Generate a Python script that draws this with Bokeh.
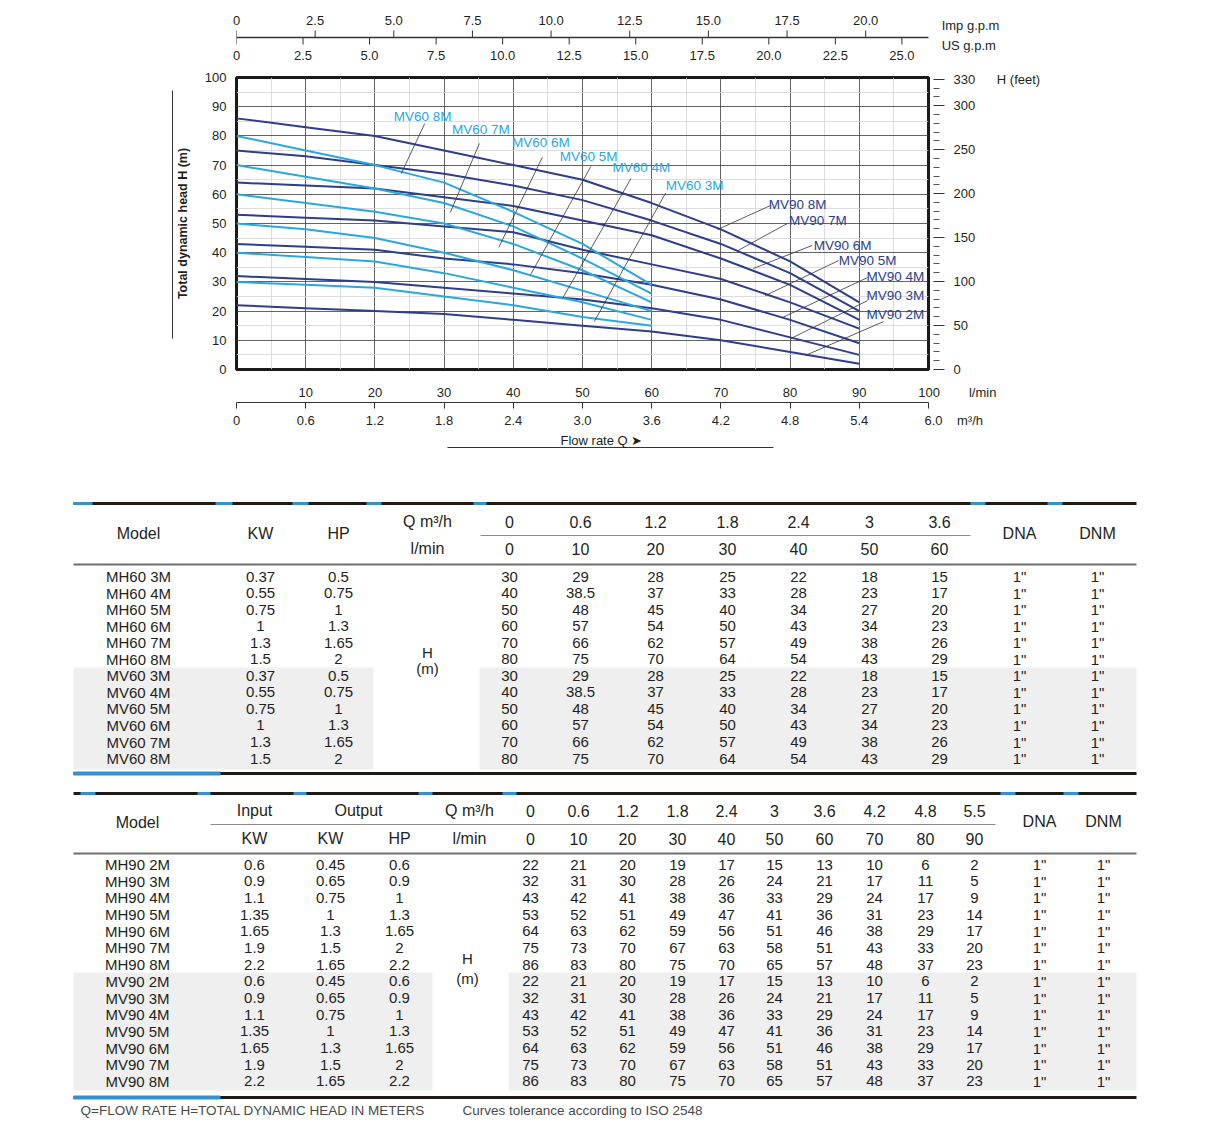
from bokeh.plotting import figure
from bokeh.models import (Range1d, LinearAxis, FixedTicker, PrintfTickFormatter,
                          Title, ColumnDataSource)
from bokeh.core.properties import value
from bokeh.embed import file_html
from bokeh.resources import INLINE

FONT = "Liberation Sans"
INK = "#231f20"
CYAN = "#29a8e0"
NAVY = "#2c3e8c"
ACCENT = "#3590cc"
W = 1200
NB = "\u00a0"

# ------------------------------------------------------------------ data
# MV60 / MH60 series (table 1)
lmin60 = [0, 10, 20, 30, 40, 50, 60]
m3h60 = ["0", "0.6", "1.2", "1.8", "2.4", "3", "3.6"]
stages60 = ["3M", "4M", "5M", "6M", "7M", "8M"]
kw60 = ["0.37", "0.55", "0.75", "1", "1.3", "1.5"]
hp60 = ["0.5", "0.75", "1", "1.3", "1.65", "2"]
h60_3M = [30, 29, 28, 25, 22, 18, 15]
h60_4M = [40, 38.5, 37, 33, 28, 23, 17]
h60_5M = [50, 48, 45, 40, 34, 27, 20]
h60_6M = [60, 57, 54, 50, 43, 34, 23]
h60_7M = [70, 66, 62, 57, 49, 38, 26]
h60_8M = [80, 75, 70, 64, 54, 43, 29]
heads60 = [h60_3M, h60_4M, h60_5M, h60_6M, h60_7M, h60_8M]

# MV90 / MH90 series (table 2)
lmin90 = [0, 10, 20, 30, 40, 50, 60, 70, 80, 90]
m3h90 = ["0", "0.6", "1.2", "1.8", "2.4", "3", "3.6", "4.2", "4.8", "5.5"]
stages90 = ["2M", "3M", "4M", "5M", "6M", "7M", "8M"]
kw_in90 = ["0.6", "0.9", "1.1", "1.35", "1.65", "1.9", "2.2"]
kw_out90 = ["0.45", "0.65", "0.75", "1", "1.3", "1.5", "1.65"]
hp90 = ["0.6", "0.9", "1", "1.3", "1.65", "2", "2.2"]
h90_2M = [22, 21, 20, 19, 17, 15, 13, 10, 6, 2]
h90_3M = [32, 31, 30, 28, 26, 24, 21, 17, 11, 5]
h90_4M = [43, 42, 41, 38, 36, 33, 29, 24, 17, 9]
h90_5M = [53, 52, 51, 49, 47, 41, 36, 31, 23, 14]
h90_6M = [64, 63, 62, 59, 56, 51, 46, 38, 29, 17]
h90_7M = [75, 73, 70, 67, 63, 58, 51, 43, 33, 20]
h90_8M = [86, 83, 80, 75, 70, 65, 57, 48, 37, 23]
heads90 = [h90_2M, h90_3M, h90_4M, h90_5M, h90_6M, h90_7M, h90_8M]

# axis tick values
lmin_ticks = [10, 20, 30, 40, 50, 60, 70, 80, 90, 100]
m3h_ticks = [0, 0.6, 1.2, 1.8, 2.4, 3.0, 3.6, 4.2, 4.8, 5.4, 6.0]
imp_ticks = [0, 2.5, 5.0, 7.5, 10.0, 12.5, 15.0, 17.5, 20.0]
us_ticks = [0, 2.5, 5.0, 7.5, 10.0, 12.5, 15.0, 17.5, 20.0, 22.5, 25.0]
h_ticks = [0, 10, 20, 30, 40, 50, 60, 70, 80, 90, 100]
ft_ticks = [0, 50, 100, 150, 200, 250, 300, 330]
ft_minor = [v for v in range(10, 330, 10) if v % 50 != 0]

LMIN_TO_IMP = 0.219969
LMIN_TO_US = 0.26      # as drawn on the original scale


def style_labels(ax, size="13px"):
    ax.major_label_text_font = FONT
    ax.major_label_text_font_size = size
    ax.major_label_text_color = INK


# ------------------------------------------------------------------ top scale (gpm)
TOP_H = 70
TOP_XMAX = 100 * (1060 - 236) / 692.0
top = figure(width=W, height=TOP_H, x_range=Range1d(0, TOP_XMAX), y_range=Range1d(52, 18),
             x_axis_location=None, y_axis_location=None, toolbar_location=None,
             output_backend="svg", min_border_left=236, min_border_right=W - 1060,
             min_border_top=18, min_border_bottom=18, outline_line_color=None)
top.grid.visible = False
top.extra_x_ranges = {"imp": Range1d(0, TOP_XMAX * LMIN_TO_IMP),
                      "us": Range1d(0, TOP_XMAX * LMIN_TO_US)}

imp_ax = LinearAxis(x_range_name="imp", ticker=FixedTicker(ticks=imp_ticks),
                    formatter=PrintfTickFormatter(format="%.1f"))
imp_ax.major_label_overrides = {0: "0"}
us_ax = LinearAxis(x_range_name="us", ticker=FixedTicker(ticks=us_ticks),
                   formatter=PrintfTickFormatter(format="%.1f"))
us_ax.major_label_overrides = {0: "0"}
for ax in (imp_ax, us_ax):
    ax.axis_line_color = None
    ax.major_tick_line_color = None
    ax.minor_tick_line_color = None
    ax.major_tick_out = 0
    ax.major_tick_in = 0
    style_labels(ax)
imp_ax.major_label_standoff = -6
us_ax.major_label_standoff = -2
top.add_layout(imp_ax, "above")
top.add_layout(us_ax, "below")

# scale line with up-ticks (Imp) and down-ticks (US)
top.segment(x0=[0], y0=[37], x1=[100], y1=[37], line_color="#333333", line_width=1.3)
top.segment(x0=imp_ticks, y0=[30] * len(imp_ticks), x1=imp_ticks, y1=[37] * len(imp_ticks),
            x_range_name="imp", line_color="#333333", line_width=1)
top.segment(x0=us_ticks, y0=[37] * len(us_ticks), x1=us_ticks, y1=[44] * len(us_ticks),
            x_range_name="us", line_color="#333333", line_width=1)
top.text(x=[101.9, 101.9], y=[25, 45], text=["Imp g.p.m", "US g.p.m"],
         text_align="left", text_baseline="middle", text_font=value(FONT),
         text_font_size="13px", text_color=INK)

# ------------------------------------------------------------------ main chart
MAIN_H = 395
p = figure(width=W, height=MAIN_H, x_range=Range1d(0, 100), y_range=Range1d(0, 100),
           toolbar_location=None, output_backend="svg",
           min_border_left=236, min_border_right=W - 928, min_border_top=7,
           min_border_bottom=MAIN_H - 7 - 292,
           outline_line_color="#1a1a1a", outline_line_width=3)

grid_ticks = FixedTicker(ticks=list(range(0, 101, 10)), minor_ticks=list(range(5, 100, 10)))
p.xgrid.ticker = grid_ticks
p.ygrid.ticker = grid_ticks
p.grid.grid_line_color = "#3c3c3c"
p.grid.grid_line_width = 0.8
p.grid.minor_grid_line_color = "#d4d4d4"
p.grid.minor_grid_line_width = 0.8

xa = p.xaxis[0]
xa.ticker = FixedTicker(ticks=lmin_ticks)
xa.major_label_overrides = {100: NB * 16 + "100" + NB * 8 + "l/min"}
xa.axis_line_color = None
xa.major_tick_line_color = None
xa.minor_tick_line_color = None
xa.major_tick_out = 0
xa.major_tick_in = 0
xa.major_label_standoff = 15
style_labels(xa)

ya = p.yaxis[0]
ya.ticker = FixedTicker(ticks=h_ticks)
ya.axis_line_color = None
ya.major_tick_line_color = None
ya.minor_tick_line_color = None
ya.major_tick_out = 0
ya.major_tick_in = 0
ya.major_label_standoff = 10
style_labels(ya)
ya.axis_label = "Total dynamic head H (m)"
ya.axis_label_text_font = FONT
ya.axis_label_text_font_style = "bold"
ya.axis_label_text_font_size = "12.5px"
ya.axis_label_text_color = INK
ya.axis_label_standoff = 12

left_line = LinearAxis(bounds=(10.6, 95.5), ticker=FixedTicker(ticks=[]))
left_line.axis_line_color = "#333333"
left_line.axis_line_width = 1
left_line.major_tick_line_color = None
left_line.minor_tick_line_color = None
left_line.major_label_text_font_size = "0px"
p.add_layout(left_line, "left")

p.extra_y_ranges = {"ft": Range1d(0, 332)}
ra = LinearAxis(y_range_name="ft", ticker=FixedTicker(ticks=ft_ticks, minor_ticks=ft_minor))
ra.major_label_overrides = {330: "330" + NB * 6 + "H (feet)"}
ra.axis_line_color = None
ra.major_tick_line_color = "#333333"
ra.minor_tick_line_color = "#555555"
ra.major_tick_out = 16
ra.major_tick_in = -5
ra.minor_tick_out = 11
ra.minor_tick_in = -5
ra.major_label_standoff = 9
style_labels(ra)
p.add_layout(ra, "right")

p.extra_x_ranges = {"m3h": Range1d(0, 6.0)}
ma = LinearAxis(x_range_name="m3h", ticker=FixedTicker(ticks=m3h_ticks),
                formatter=PrintfTickFormatter(format="%.1f"))
ma.major_label_overrides = {0: "0", 6.0: NB * 14 + "6.0" + NB * 4 + "m\u00b3/h"}
ma.axis_line_color = "#333333"
ma.axis_line_width = 1.2
ma.major_tick_line_color = "#333333"
ma.minor_tick_line_color = None
ma.major_tick_out = 6
ma.major_tick_in = 0
ma.major_label_standoff = 4
style_labels(ma)
p.add_layout(ma, "below")

p.add_layout(Title(text="Flow rate Q \u27a4", align="left", offset=324, standoff=0,
                   text_font=FONT, text_font_size="13px", text_font_style="normal",
                   text_color=INK), "below")

flow_line = LinearAxis(bounds=(30.5, 77.6), ticker=FixedTicker(ticks=[]))
flow_line.axis_line_color = "#333333"
flow_line.axis_line_width = 1
flow_line.major_tick_line_color = None
flow_line.minor_tick_line_color = None
flow_line.major_label_text_font_size = "0px"
p.add_layout(flow_line, "below")

# curves
for hv in heads90:
    p.line(lmin90, hv, line_color=NAVY, line_width=2)
for hv in heads60:
    p.line(lmin60, hv, line_color=CYAN, line_width=2)

# curve labels with leader lines (label x, label y, leader x0, y0, x1, y1)
labels60 = [("MV60 8M", 26.9, 86.6, 27.2, 84.2, 23.8, 67.1),
            ("MV60 7M", 35.3, 82.2, 35.1, 77.4, 30.9, 53.8),
            ("MV60 6M", 44.0, 77.7, 44.2, 72.7, 37.9, 41.8),
            ("MV60 5M", 50.9, 72.9, 51.2, 69.5, 42.5, 32.5),
            ("MV60 4M", 58.5, 69.2, 57.0, 65.4, 47.1, 24.3),
            ("MV60 3M", 66.2, 62.9, 62.0, 60.4, 51.7, 16.4)]
labels90 = [("MV90 8M", 81.1, 56.5, 77.2, 56.2, 69.5, 47.9),
            ("MV90 7M", 84.0, 51.0, 79.6, 50.0, 72.5, 40.8),
            ("MV90 6M", 87.6, 42.5, 83.2, 42.5, 74.7, 34.6),
            ("MV90 5M", 91.2, 37.3, 87.0, 37.3, 76.4, 25.3),
            ("MV90 4M", 95.2, 31.8, 91.2, 31.5, 78.9, 17.8),
            ("MV90 3M", 95.2, 25.3, 91.2, 23.6, 80.1, 10.6),
            ("MV90 2M", 95.2, 18.8, 93.5, 16.4, 82.2, 4.8)]
for labs, col in ((labels60, CYAN), (labels90, NAVY)):
    src = ColumnDataSource(dict(t=[l[0] for l in labs], x=[l[1] for l in labs], y=[l[2] for l in labs],
                                x0=[l[3] for l in labs], y0=[l[4] for l in labs],
                                x1=[l[5] for l in labs], y1=[l[6] for l in labs]))
    p.segment("x0", "y0", "x1", "y1", source=src, line_color="#333333", line_width=0.8)
    p.text("x", "y", text="t", source=src, text_align="center", text_baseline="middle",
           text_font=value(FONT), text_font_size="13.5px", text_color=col)

# ------------------------------------------------------------------ tables
TOP = TOP_H + MAIN_H
TH = 1123 - TOP
tf = figure(width=W, height=TH, x_range=Range1d(0, W), y_range=Range1d(TOP + TH, TOP),
            x_axis_location=None, y_axis_location=None, toolbar_location=None,
            output_backend="svg", min_border_left=0, min_border_right=0,
            min_border_top=0, min_border_bottom=0, outline_line_color=None)
tf.grid.visible = False

texts = dict(x=[], y=[], t=[], size=[], align=[], color=[])


def put(x, y, t, size="15px", align="center", color=INK):
    texts["x"].append(x)
    texts["y"].append(y)
    texts["t"].append(t)
    texts["size"].append(size)
    texts["align"].append(align)
    texts["color"].append(color)


L, R = 73, 1136

# --- table 1 geometry
t1_top, t1_mid, t1_hdr, t1_bot = 503, 535, 564, 773
t1_q_x = [509, 580, 655, 727, 798, 869, 939]
t1_rows = [576 + i * 16.55 for i in range(12)]
tf.quad(left=[L, 479], right=[373, R], top=[667, 667], bottom=[769, 769],
        fill_color="#efefef", line_color=None)

# --- table 2 geometry
t2_top, t2_mid, t2_hdr, t2_bot = 793, 824, 853, 1097
t2_q_x = [530, 578, 627, 677, 726, 774, 824, 874, 925, 974]
t2_rows = [864 + i * 16.69 for i in range(14)]
tf.quad(left=[L, 508], right=[432, R], top=[972, 972], bottom=[1090, 1090],
        fill_color="#efefef", line_color=None)

# rules
tf.segment(x0=[L, L, L, L], y0=[t1_top, t1_bot, t2_top, t2_bot], x1=[R, R, R, R],
           y1=[t1_top, t1_bot, t2_top, t2_bot], line_color="#1f1a17", line_width=3)
tf.segment(x0=[L, L], y0=[t1_hdr, t2_hdr], x1=[R, R], y1=[t1_hdr, t2_hdr],
           line_color="#6e6e6e", line_width=2)
tf.segment(x0=[480, 210], y0=[t1_mid, t2_mid], x1=[970, 995], y1=[t1_mid, t2_mid],
           line_color="#8a8a8a", line_width=1)
acc1 = [(73, 92), (215, 232), (292, 308), (366, 381), (473, 486), (970, 985), (1047, 1062)]
acc2 = [(80, 95), (197, 210), (293, 306), (418, 432), (502, 516), (1000, 1015), (1063, 1078)]
tf.segment(x0=[a for a, b in acc1] + [a for a, b in acc2], y0=[t1_top] * 7 + [t2_top] * 7,
           x1=[b for a, b in acc1] + [b for a, b in acc2], y1=[t1_top] * 7 + [t2_top] * 7,
           line_color=ACCENT, line_width=3)
tf.segment(x0=[L, L], y0=[t1_bot, t2_bot], x1=[220, 220], y1=[t1_bot, t2_bot],
           line_color=ACCENT, line_width=4)

# table 1 header
put(138, 533, "Model", "16px")
put(260, 533, "KW", "16px")
put(338, 533, "HP", "16px")
put(427, 521, "Q m\u00b3/h", "16px")
put(427, 548, "l/min", "16px")
for x, q, lm in zip(t1_q_x, m3h60, lmin60):
    put(x, 521, q, "16px")
    put(x, 548, str(lm), "16px")
put(1019, 533, "DNA", "16px")
put(1097, 533, "DNM", "16px")
put(427, 652, "H")
put(427, 668, "(m)")
i = 0
for series in ("MH60", "MV60"):
    for st, kw, hp, hv in zip(stages60, kw60, hp60, heads60):
        y = t1_rows[i]
        put(138, y, series + " " + st)
        put(260, y, kw)
        put(338, y, hp)
        for x, h in zip(t1_q_x, hv):
            put(x, y, ("%g" % h))
        put(1019, y, '1"')
        put(1097, y, '1"')
        i += 1

# table 2 header
put(137, 822, "Model", "16px")
put(254, 810, "Input", "16px")
put(358, 810, "Output", "16px")
put(469, 810, "Q m\u00b3/h", "16px")
put(254, 838, "KW", "16px")
put(330, 838, "KW", "16px")
put(399, 838, "HP", "16px")
put(469, 838, "l/min", "16px")
for x, q, lm in zip(t2_q_x, m3h90, lmin90):
    put(x, 810, q, "16px")
    put(x, 838, str(lm), "16px")
put(1039, 821, "DNA", "16px")
put(1103, 821, "DNM", "16px")
put(467, 958, "H")
put(467, 978, "(m)")
i = 0
for series in ("MH90", "MV90"):
    for st, ki, ko, hp, hv in zip(stages90, kw_in90, kw_out90, hp90, heads90):
        y = t2_rows[i]
        put(137, y, series + " " + st)
        put(254, y, ki)
        put(330, y, ko)
        put(399, y, hp)
        for x, h in zip(t2_q_x, hv):
            put(x, y, ("%g" % h))
        put(1039, y, '1"')
        put(1103, y, '1"')
        i += 1

put(80, 1110, "Q=FLOW RATE H=TOTAL DYNAMIC HEAD IN METERS", "13.5px", "left", "#4a4a4a")
put(462, 1110, "Curves tolerance according to ISO 2548", "13.5px", "left", "#4a4a4a")

tsrc = ColumnDataSource(texts)
tf.text("x", "y", text="t", source=tsrc, text_font=value(FONT), text_font_size="size",
        text_align="align", text_baseline="middle", text_color="color")

open("out.html", "w").write(file_html([top, p, tf], INLINE))
